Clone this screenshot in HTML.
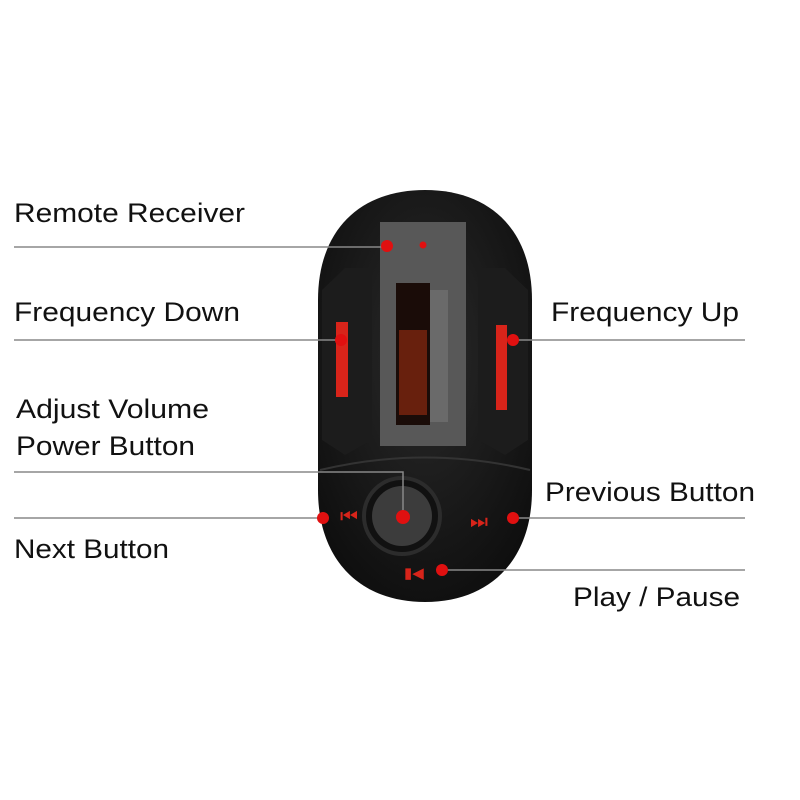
<!DOCTYPE html>
<html><head><style>body{margin:0;background:#fff}svg{display:block}</style></head><body>
<svg width="800" height="800" viewBox="0 0 800 800" font-family="Liberation Sans, sans-serif" font-size="27" fill="#111">
<defs>
<radialGradient id="g" cx="0.5" cy="0.4" r="0.7"><stop offset="0" stop-color="#2a2a2a"/><stop offset="1" stop-color="#0c0c0c"/></radialGradient>
</defs>
<path d="M425,190 C490,190 532,230 532,300 L532,490 C532,560 490,602 425,602 C360,602 318,560 318,490 L318,300 C318,230 360,190 425,190 Z" fill="url(#g)"/>
<path d="M322,290 L345,268 L372,268 L372,440 L345,455 L322,440 Z" fill="#1c1c1c"/>
<path d="M528,290 L505,268 L478,268 L478,440 L505,455 L528,440 Z" fill="#1c1c1c"/>
<rect x="380" y="222" width="86" height="224" fill="#585858"/>
<rect x="396" y="283" width="34" height="142" fill="#1a0c08"/>
<rect x="430" y="290" width="18" height="132" fill="#6a6a6a"/>
<rect x="399" y="330" width="28" height="85" fill="#8a2a10" opacity="0.7"/>
<rect x="336" y="322" width="12" height="75" fill="#d8241a"/>
<rect x="496" y="325" width="11" height="85" fill="#d8241a"/>
<path d="M320,470 Q425,445 530,470" stroke="#333" stroke-width="2" fill="none"/>
<circle cx="402" cy="516" r="38" fill="#111" stroke="#2c2c2c" stroke-width="4"/>
<circle cx="402" cy="516" r="30" fill="#3c3c3c"/>
<text x="340" y="523" font-size="20" fill="#d8241a">⏮</text>
<text x="470" y="528" font-size="20" fill="#d8241a">⏭</text>
<text x="404" y="578" font-size="15" fill="#d8241a">▮◀</text>
<g stroke="#888" stroke-width="1.5" fill="none">
<line x1="14" y1="247" x2="385" y2="247"/>
<line x1="14" y1="340" x2="340" y2="340"/>
<line x1="515" y1="340" x2="745" y2="340"/>
<polyline points="14,472 403,472 403,517"/>
<line x1="14" y1="518" x2="323" y2="518"/>
<line x1="515" y1="518" x2="745" y2="518"/>
<line x1="440" y1="570" x2="745" y2="570"/>
</g>
<g fill="#e01010">
<circle cx="387" cy="246" r="6"/><circle cx="423" cy="245" r="3.5"/>
<circle cx="341" cy="340" r="6"/><circle cx="513" cy="340" r="6"/>
<circle cx="403" cy="517" r="7"/><circle cx="323" cy="518" r="6"/>
<circle cx="513" cy="518" r="6"/><circle cx="442" cy="570" r="6"/>
</g>
<g lengthAdjust="spacingAndGlyphs">
<text x="14" y="222" textLength="231" lengthAdjust="spacingAndGlyphs">Remote Receiver</text>
<text x="14" y="321" textLength="226" lengthAdjust="spacingAndGlyphs">Frequency Down</text>
<text x="551" y="321" textLength="188" lengthAdjust="spacingAndGlyphs">Frequency Up</text>
<text x="16" y="418" textLength="193" lengthAdjust="spacingAndGlyphs">Adjust Volume</text>
<text x="16" y="455" textLength="179" lengthAdjust="spacingAndGlyphs">Power Button</text>
<text x="545" y="501" textLength="210" lengthAdjust="spacingAndGlyphs">Previous Button</text>
<text x="14" y="558" textLength="155" lengthAdjust="spacingAndGlyphs">Next Button</text>
<text x="573" y="606" textLength="167" lengthAdjust="spacingAndGlyphs">Play / Pause</text>
</g>
</svg>
</body></html>
